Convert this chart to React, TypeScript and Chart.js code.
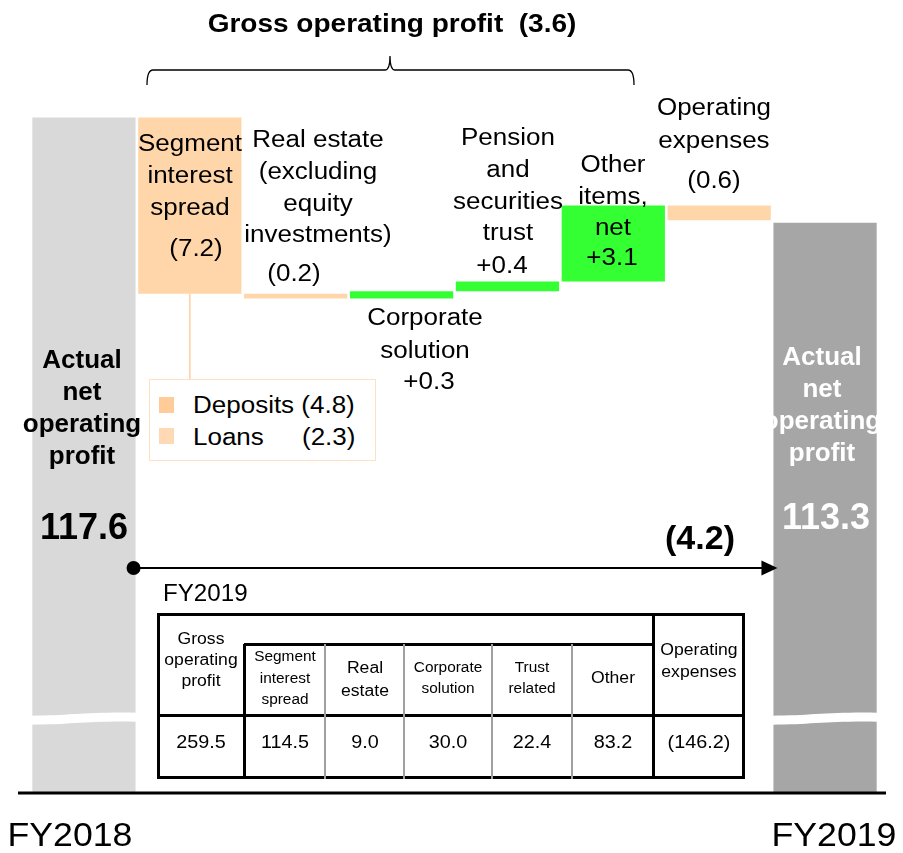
import React, { useEffect, useRef } from "react";
import { Chart, registerables } from "chart.js";

Chart.register(...registerables);

// ---------- data ----------
const categories = [
  "FY2018",
  "Segment interest spread",
  "Real estate (excluding equity investments)",
  "Corporate solution",
  "Pension and securities trust",
  "Other items, net",
  "Operating expenses",
  "FY2019",
];
const startValue = 117.6;
const endValue = 113.3;
const deltas = [-7.2, -0.2, 0.3, 0.4, 3.1, -0.6];
const totalChange = -4.2;
const grossChange = -3.6;
const axisMin = 90;
const axisMax = 122.4;
const breakAt = 93.2;

const spreadParts = ["Deposits", "Loans"];
const spreadValues = [-4.8, -2.3];

const tableHeaders = [
  ["Gross", "operating", "profit"],
  ["Segment", "interest", "spread"],
  ["Real", "estate"],
  ["Corporate", "solution"],
  ["Trust", "related"],
  ["Other"],
  ["Operating", "expenses"],
];
const tableValues = [259.5, 114.5, 9.0, 30.0, 22.4, 83.2, -146.2];

// ---------- helpers ----------
const FONT = '"Liberation Sans", Arial, Helvetica, sans-serif';
const fmt = (v: number) => (v < 0 ? `(${Math.abs(v).toFixed(1)})` : `+${v.toFixed(1)}`);

const COLORS = {
  start: "#d9d9d9",
  end: "#a6a6a6",
  down: "#ffd5aa",
  up: "#33ff33",
};

function buildBars() {
  const floats: [number, number][] = [[axisMin, startValue]];
  const colors: string[] = [COLORS.start];
  let run = startValue;
  deltas.forEach((d) => {
    const nxt = Math.round((run + d) * 10) / 10;
    floats.push([Math.min(run, nxt), Math.max(run, nxt)]);
    colors.push(d < 0 ? COLORS.down : COLORS.up);
    run = nxt;
  });
  floats.push([axisMin, endValue]);
  colors.push(COLORS.end);
  return { floats, colors };
}

type TxtProps = {
  x: number;
  y: number;
  lines: string[];
  size: number;
  lh: number;
  bold?: boolean;
  color?: string;
  sx?: number;
  anchor?: "center" | "left";
};
const Txt = ({ x, y, lines, size, lh, bold, color = "#000", sx = 1, anchor = "center" }: TxtProps) => (
  <div
    style={{
      position: "absolute",
      left: x,
      top: y - lh / 2,
      fontSize: size,
      lineHeight: lh + "px",
      fontWeight: bold ? "bold" : "normal",
      color,
      whiteSpace: "pre",
      textAlign: anchor === "left" ? "left" : "center",
      transform: `${anchor === "center" ? "translateX(-50%) " : ""}scaleX(${sx})`,
      transformOrigin: anchor === "center" ? "center top" : "left top",
      fontFamily: FONT,
    }}
  >
    {lines.map((l, i) => (
      <div key={i}>{l}</div>
    ))}
  </div>
);

// ---------- plugin ----------
const decor = {
  id: "decor",
  afterDatasetsDraw(chart: any) {
    const ctx: CanvasRenderingContext2D = chart.ctx;
    const meta = chart.getDatasetMeta(0);
    const ys = chart.scales.y;
    const n = meta.data.length;

    // axis break bands on the two total bars
    const yb = ys.getPixelForValue(breakAt);
    [0, n - 1].forEach((i) => {
      const bar = meta.data[i];
      const l = bar.x - bar.width / 2 - 1;
      const r = bar.x + bar.width / 2 + 1;
      const w = r - l;
      ctx.save();
      ctx.fillStyle = "#ffffff";
      ctx.beginPath();
      ctx.moveTo(l, yb + 1);
      ctx.bezierCurveTo(l + w * 0.35, yb + 1, l + w * 0.55, yb - 3, r, yb - 2);
      ctx.lineTo(r, yb + 7);
      ctx.bezierCurveTo(l + w * 0.55, yb + 6, l + w * 0.35, yb + 10, l, yb + 10);
      ctx.closePath();
      ctx.fill();
      ctx.restore();
    });

    // baseline
    const yBase = ys.getPixelForValue(axisMin);
    ctx.save();
    ctx.strokeStyle = "#000";
    ctx.lineWidth = 3;
    ctx.beginPath();
    ctx.moveTo(18, yBase);
    ctx.lineTo(886, yBase);
    ctx.stroke();
    ctx.restore();

    // total change arrow
    const b0 = meta.data[0];
    const bN = meta.data[n - 1];
    const ay = 568;
    const ax0 = b0.x + b0.width / 2 - 2;
    const ax1 = bN.x - bN.width / 2 + 4;
    ctx.save();
    ctx.strokeStyle = "#000";
    ctx.fillStyle = "#000";
    ctx.lineWidth = 2;
    ctx.beginPath();
    ctx.moveTo(ax0, ay);
    ctx.lineTo(ax1 - 14, ay);
    ctx.stroke();
    ctx.beginPath();
    ctx.moveTo(ax1, ay);
    ctx.lineTo(ax1 - 16, ay - 7.5);
    ctx.lineTo(ax1 - 16, ay + 7.5);
    ctx.closePath();
    ctx.fill();
    ctx.beginPath();
    ctx.arc(ax0, ay, 7, 0, Math.PI * 2);
    ctx.fill();
    ctx.restore();

    // connector from spread bar to its breakdown box
    const b1 = meta.data[1];
    const b1Bottom = Math.max(b1.y, b1.base);
    ctx.save();
    ctx.strokeStyle = "#ffcf9f";
    ctx.lineWidth = 1.5;
    ctx.beginPath();
    ctx.moveTo(b1.x, b1Bottom);
    ctx.lineTo(b1.x, 379);
    ctx.stroke();
    ctx.restore();

    // brace over gross operating profit items
    const bl = 147, br = 634, bm = 390, by = 70, bt = 85, bp = 56;
    ctx.save();
    ctx.strokeStyle = "#000";
    ctx.lineWidth = 1.3;
    ctx.beginPath();
    ctx.moveTo(bl, bt);
    ctx.quadraticCurveTo(bl, by, bl + 6, by);
    ctx.lineTo(bm - 5, by);
    ctx.quadraticCurveTo(bm, by, bm, bp);
    ctx.quadraticCurveTo(bm, by, bm + 5, by);
    ctx.lineTo(br - 6, by);
    ctx.quadraticCurveTo(br, by, br, bt);
    ctx.stroke();
    ctx.restore();
  },
};

// ---------- table ----------
const colEdges = [157, 244, 325, 404, 492, 572, 653, 745];
const tTop = 613, tMid = 644, tHead = 715, tBot = 779;

function Table() {
  const lines: React.ReactNode[] = [];
  const L = (k: string, l: number, t: number, w: number, h: number, c: string) =>
    lines.push(<div key={k} style={{ position: "absolute", left: l, top: t, width: w, height: h, background: c }} />);
  const T = 3;
  L("ot", colEdges[0], tTop, colEdges[7] - colEdges[0], T, "#000");
  L("ob", colEdges[0], tBot - T, colEdges[7] - colEdges[0], T, "#000");
  L("ol", colEdges[0], tTop, T, tBot - tTop, "#000");
  L("or", colEdges[7] - T, tTop, T, tBot - tTop, "#000");
  L("hb", colEdges[0], tHead - 1, colEdges[7] - colEdges[0], T, "#000");
  L("hm", colEdges[1], tMid - 1, colEdges[6] - colEdges[1], T, "#000");
  L("v1", colEdges[1] - 1, tMid, T, tBot - tMid, "#000");
  L("v6", colEdges[6] - 1, tTop, T, tBot - tTop, "#000");
  [2, 3, 4, 5].forEach((i) => L("t" + i, colEdges[i] - 1, tMid, 2, tBot - tMid, "#a0a0a0"));

  const cx = (i: number) => (colEdges[i] + colEdges[i + 1]) / 2;
  const headerSpec = [
    { size: 16, y0: 638, lh: 21 },
    { size: 14, y0: 657, lh: 21.5 },
    { size: 16, y0: 667, lh: 23 },
    { size: 14, y0: 667, lh: 21 },
    { size: 14, y0: 667, lh: 21 },
    { size: 16, y0: 678, lh: 22 },
    { size: 16, y0: 650, lh: 22 },
  ];
  return (
    <>
      {lines}
      {tableHeaders.map((h, i) => (
        <Txt key={"h" + i} x={cx(i)} y={headerSpec[i].y0} lines={h} size={headerSpec[i].size} lh={headerSpec[i].lh} sx={1.1} />
      ))}
      {tableValues.map((v, i) => (
        <Txt key={"v" + i} x={cx(i)} y={742} lines={[v < 0 ? fmt(v) : v.toFixed(1)]} size={18} lh={22} sx={1.1} />
      ))}
    </>
  );
}

export default function App() {
  const ref = useRef<HTMLCanvasElement>(null);

  useEffect(() => {
    if (!ref.current) return;
    const { floats, colors } = buildBars();
    const chart = new Chart(ref.current, {
      type: "bar",
      data: {
        labels: categories,
        datasets: [
          {
            data: floats as any,
            backgroundColor: colors,
            borderWidth: 0,
            borderSkipped: false,
            barPercentage: 0.975,
            categoryPercentage: 1,
          },
        ],
      },
      options: {
        responsive: false,
        animation: false,
        layout: { padding: { left: 31, right: 25, top: 0, bottom: 60 } },
        plugins: { legend: { display: false }, tooltip: { enabled: false } },
        scales: {
          x: { display: false },
          y: { display: false, min: axisMin, max: axisMax },
        },
      },
      plugins: [decor],
    });
    return () => chart.destroy();
  }, []);

  const R = 23;
  const SX = 1.13;
  return (
    <div style={{ position: "absolute", left: 0, top: 0, width: 903, height: 853, background: "#fff", overflow: "hidden", fontFamily: FONT }}>
      <canvas ref={ref} width={903} height={853} style={{ position: "absolute", left: 0, top: 0, display: "block" }} />

      {/* title */}
      <Txt x={392} y={23} lines={[`Gross operating profit  ${fmt(grossChange)}`]} size={25} lh={30} bold sx={1.12} />

      {/* item labels */}
      <Txt x={190} y={143} lines={["Segment", "interest", "spread"]} size={R} lh={32} sx={SX} />
      <Txt x={196} y={248} lines={[fmt(deltas[0])]} size={R} lh={30} sx={SX} />

      <Txt x={318} y={140} lines={["Real estate", "(excluding", "equity", "investments)"]} size={R} lh={31.7} sx={SX} />
      <Txt x={294} y={273} lines={[fmt(deltas[1])]} size={R} lh={30} sx={SX} />

      <Txt x={425} y={317} lines={["Corporate", "solution"]} size={R} lh={33} sx={SX} />
      <Txt x={429} y={381} lines={[fmt(deltas[2])]} size={R} lh={30} sx={SX} />

      <Txt x={508} y={138} lines={["Pension", "and", "securities", "trust"]} size={R} lh={31.7} sx={SX} />
      <Txt x={502} y={265} lines={[fmt(deltas[3])]} size={R} lh={30} sx={SX} />

      <Txt x={613} y={165} lines={["Other", "items,", "net"]} size={R} lh={31.5} sx={SX} />
      <Txt x={612} y={257} lines={[fmt(deltas[4])]} size={R} lh={30} sx={SX} />

      <Txt x={714} y={107} lines={["Operating", "expenses"]} size={R} lh={33} sx={SX} />
      <Txt x={714} y={180} lines={[fmt(deltas[5])]} size={R} lh={30} sx={SX} />

      {/* totals */}
      <Txt x={82} y={359} lines={["Actual", "net", "operating", "profit"]} size={26} lh={32} bold />
      <Txt x={84} y={527} lines={[startValue.toFixed(1)]} size={36} lh={40} bold />
      <Txt x={822} y={356} lines={["Actual", "net", "operating", "profit"]} size={26} lh={32} bold color="#fff" />
      <Txt x={826} y={517} lines={[endValue.toFixed(1)]} size={36} lh={40} bold color="#fff" />
      <Txt x={700} y={537} lines={[fmt(totalChange)]} size={34} lh={40} bold />

      {/* breakdown box */}
      <div style={{ position: "absolute", left: 149, top: 379, width: 227, height: 82, border: "1px solid #ffe0c0", boxSizing: "border-box", background: "#fff" }} />
      <div style={{ position: "absolute", left: 159, top: 397, width: 15, height: 16, background: "#ffcc99" }} />
      <div style={{ position: "absolute", left: 159, top: 428, width: 15, height: 16, background: "#ffd9b3" }} />
      <Txt x={193} y={405} lines={[`${spreadParts[0]} ${fmt(spreadValues[0])}`]} size={R} lh={30} sx={SX} anchor="left" />
      <Txt x={193} y={437} lines={[spreadParts[1]]} size={R} lh={30} sx={SX} anchor="left" />
      <Txt x={302} y={437} lines={[fmt(spreadValues[1])]} size={R} lh={30} sx={SX} anchor="left" />

      {/* table */}
      <Txt x={163} y={593} lines={["FY2019"]} size={23} lh={28} sx={1.05} anchor="left" />
      <Table />

      {/* bottom labels */}
      <Txt x={70} y={835} lines={["FY2018"]} size={33} lh={40} sx={1.08} />
      <Txt x={834} y={835} lines={["FY2019"]} size={33} lh={40} sx={1.08} />
    </div>
  );
}
